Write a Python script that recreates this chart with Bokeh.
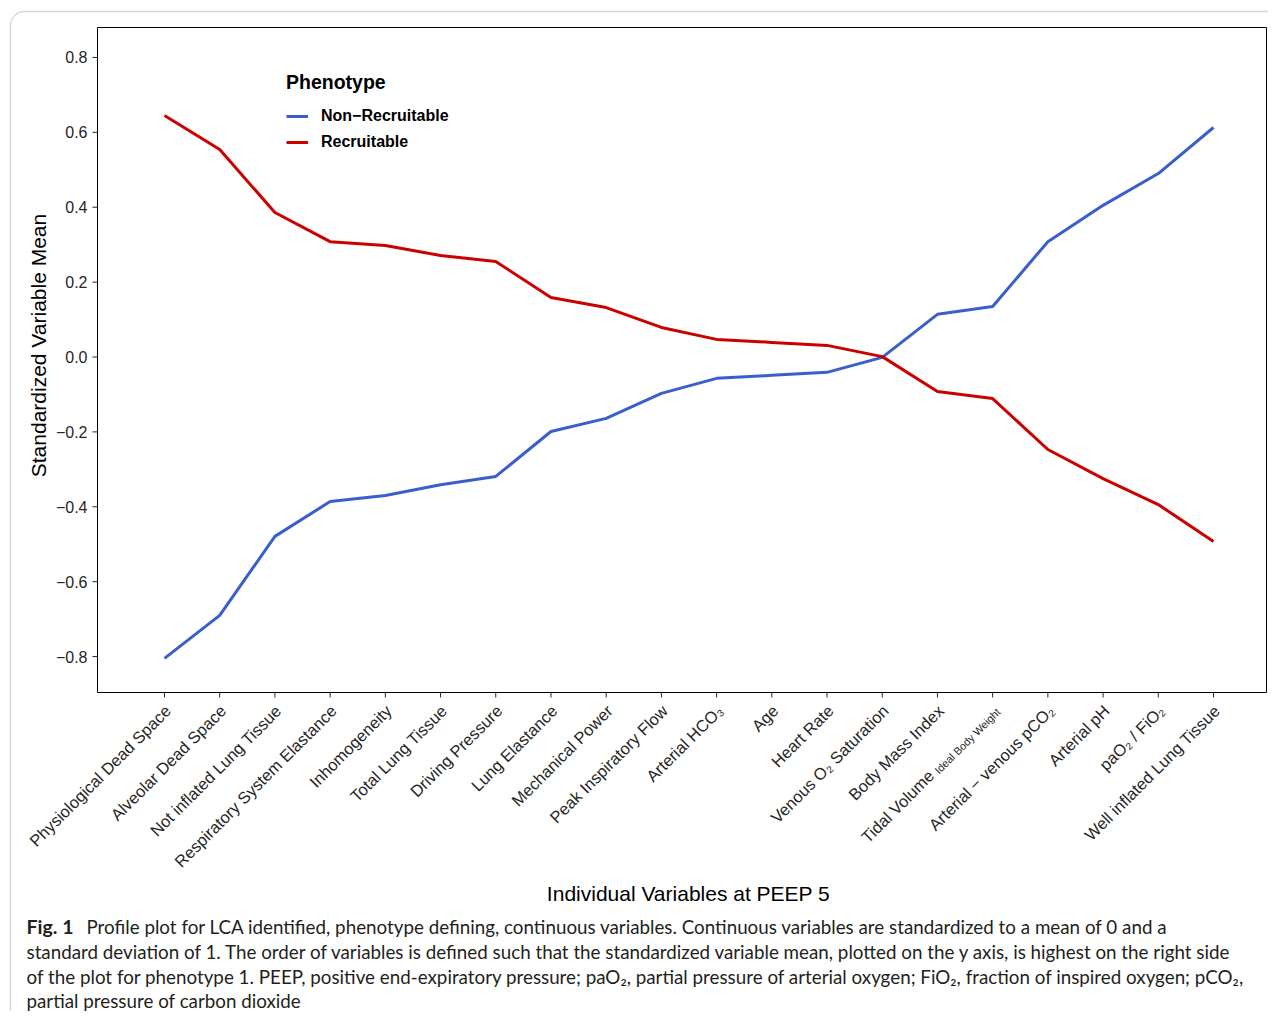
import math
from bokeh.plotting import figure
from bokeh.models import Range1d, Legend, LegendItem, BoxAnnotation
from bokeh.core.properties import value
from bokeh.embed import file_html
from bokeh.resources import INLINE

# ---------------- data ----------------
variables = ["Physiological Dead Space", "Alveolar Dead Space", "Not inflated Lung Tissue",
             "Respiratory System Elastance", "Inhomogeneity", "Total Lung Tissue",
             "Driving Pressure", "Lung Elastance", "Mechanical Power", "Peak Inspiratory Flow",
             "Arterial HCO\u2083", "Age", "Heart Rate", "Venous O\u2082 Saturation",
             "Body Mass Index", "Tidal Volume", "Arterial \u2212 venous pCO\u2082", "Arterial pH",
             "paO\u2082 / FiO\u2082", "Well inflated Lung Tissue"]
tidal_subscript = "Ideal Body Weight"

recruitable = [0.645, 0.554, 0.386, 0.308, 0.298, 0.271, 0.255, 0.159, 0.132, 0.079,
               0.047, 0.039, 0.031, 0.001, -0.092, -0.111, -0.247, -0.325, -0.394, -0.493]
non_recruitable = [-0.805, -0.690, -0.479, -0.386, -0.370, -0.341, -0.319, -0.199, -0.164, -0.097,
                   -0.057, -0.049, -0.041, -0.001, 0.114, 0.135, 0.308, 0.405, 0.490, 0.613]
series_names = ["Non\u2212Recruitable", "Recruitable"]
y_ticks = [-0.8, -0.6, -0.4, -0.2, 0.0, 0.2, 0.4, 0.6, 0.8]
y_tick_labels = ["\u22120.8", "\u22120.6", "\u22120.4", "\u22120.2", "0.0", "0.2", "0.4", "0.6", "0.8"]

x_title = "Individual Variables at PEEP 5"
y_title = "Standardized Variable Mean"
legend_title = "Phenotype"
caption_bold = "Fig. 1"
caption_lines = [
    "Profile plot for LCA identified, phenotype defining, continuous variables. Continuous variables are standardized to a mean of 0 and a",
    "standard deviation of 1. The order of variables is defined such that the standardized variable mean, plotted on the y axis, is highest on the right side",
    "of the plot for phenotype 1. PEEP, positive end-expiratory pressure; paO\u2082, partial pressure of arterial oxygen; FiO\u2082, fraction of inspired oxygen; pCO\u2082,",
    "partial pressure of carbon dioxide",
]

# ---------------- layout (canvas pixels) ----------------
CW, CH = 1268, 1011
PL, PR, PT, PB = 97, 1266, 27, 692          # panel box
x_lo, x_hi = -1.2135, 19.96                  # data values at panel edges
y_lo, y_hi = -0.896, 0.880
sx = (PR - PL) / (x_hi - x_lo)
sy = (PB - PT) / (y_hi - y_lo)
FONT = "Liberation Sans"
CAP_FONT = "Lato"
TXT = "#262626"

xs = list(range(len(variables)))
p = figure(width=CW, height=CH, output_backend="svg", toolbar_location=None,
           x_range=Range1d(x_lo - PL / sx, x_hi + (CW - PR) / sx),
           y_range=Range1d(y_lo - (CH - PB) / sy, y_hi + PT / sy),
           x_axis_type=None, y_axis_type=None,
           min_border_left=0, min_border_right=0, min_border_top=0, min_border_bottom=0)
p.extra_x_ranges = {"px": Range1d(0, CW)}
p.extra_y_ranges = {"px": Range1d(CH, 0)}
p.xgrid.visible = False
p.ygrid.visible = False
p.outline_line_color = None
p.background_fill_color = "white"
p.border_fill_color = "white"

# outer rounded box
p.add_layout(BoxAnnotation(left=10, right=CW + 40, top=11, bottom=CH + 40,
                           x_range_name="px", y_range_name="px", fill_alpha=0,
                           line_color="#777777", line_width=1.3, border_radius=14))

# panel border
p.quad(left=[x_lo], right=[x_hi], bottom=[y_lo], top=[y_hi], fill_color=None,
       line_color="black", line_width=1)

# y ticks and labels
p.segment(x0=[x_lo - 5 / sx] * len(y_ticks), x1=[x_lo] * len(y_ticks), y0=y_ticks, y1=y_ticks,
          line_color=TXT, line_width=1)
p.text(x=[x_lo - 10 / sx] * len(y_ticks), y=y_ticks, text=y_tick_labels, text_align="right",
       text_baseline="middle", text_font=value(FONT), text_font_size="16px", text_color=TXT)

# x ticks and labels
p.segment(x0=xs, x1=xs, y0=[y_lo] * len(xs), y1=[y_lo - 5 / sy] * len(xs),
          line_color=TXT, line_width=1)
ti = variables.index("Tidal Volume")
shift = 65.0
base = 9.0
dx0 = -3.0
lab_y = [y_lo - base / sy] * len(xs)
lab_dx = [dx0] * len(xs)
lab_y[ti] = y_lo - (base + shift) / sy
lab_dx[ti] = dx0 - shift
p.text(x=xs, y=lab_y, text=variables, x_offset=lab_dx, angle=math.pi / 4, text_align="right",
       text_baseline="top", text_font=value(FONT), text_font_size="16.5px", text_color=TXT)
sub = 4.3
p.text(x=[ti], y=[y_lo - (base + sub) / sy], text=[tidal_subscript], x_offset=dx0 + sub,
       angle=math.pi / 4, text_align="right", text_baseline="top", text_font=value(FONT),
       text_font_size="10.8px", text_color=TXT)

# series
r_blue = p.line(xs, non_recruitable, line_color="#3a5fcd", line_width=3, line_join="round")
r_red = p.line(xs, recruitable, line_color="#cd0000", line_width=3, line_join="round")

# axis titles
p.text(x=[688], y=[893], text=[x_title], x_range_name="px", y_range_name="px",
       text_align="center", text_baseline="middle", text_font=value(FONT),
       text_font_size="21px", text_color="black")
p.text(x=[38], y=[345], text=[y_title], x_range_name="px", y_range_name="px", angle=math.pi / 2,
       text_align="center", text_baseline="middle", text_font=value(FONT),
       text_font_size="21px", text_color="black")

# legend
legend = Legend(items=[LegendItem(label=series_names[0], renderers=[r_blue]),
                       LegendItem(label=series_names[1], renderers=[r_red])],
                location=(286, CH - 155), title=legend_title)
legend.title_text_font = FONT
legend.title_text_font_size = "19.5px"
legend.title_text_font_style = "bold"
legend.title_text_color = "black"
legend.title_standoff = 9
legend.label_text_font = FONT
legend.label_text_font_size = "16px"
legend.label_text_font_style = "bold"
legend.label_text_color = "black"
legend.glyph_width = 22
legend.glyph_height = 26
legend.label_height = 26
legend.label_standoff = 13
legend.spacing = 0
legend.padding = 0
legend.margin = 0
legend.border_line_color = None
legend.background_fill_alpha = 0
p.add_layout(legend)

# caption
cap_y = [926, 951, 976, 1000]
p.text(x=[26], y=[cap_y[0]], text=[caption_bold], x_range_name="px", y_range_name="px",
       text_baseline="middle", text_font=value(CAP_FONT), text_font_size="19.5px",
       text_font_style="bold", text_color="#231f20")
p.text(x=[86] + [26] * 3, y=cap_y, text=caption_lines, x_range_name="px", y_range_name="px",
       text_baseline="middle", text_font=value(CAP_FONT), text_font_size="18.8px",
       text_color="#231f20")

open("out.html", "w").write(file_html(p, INLINE))
